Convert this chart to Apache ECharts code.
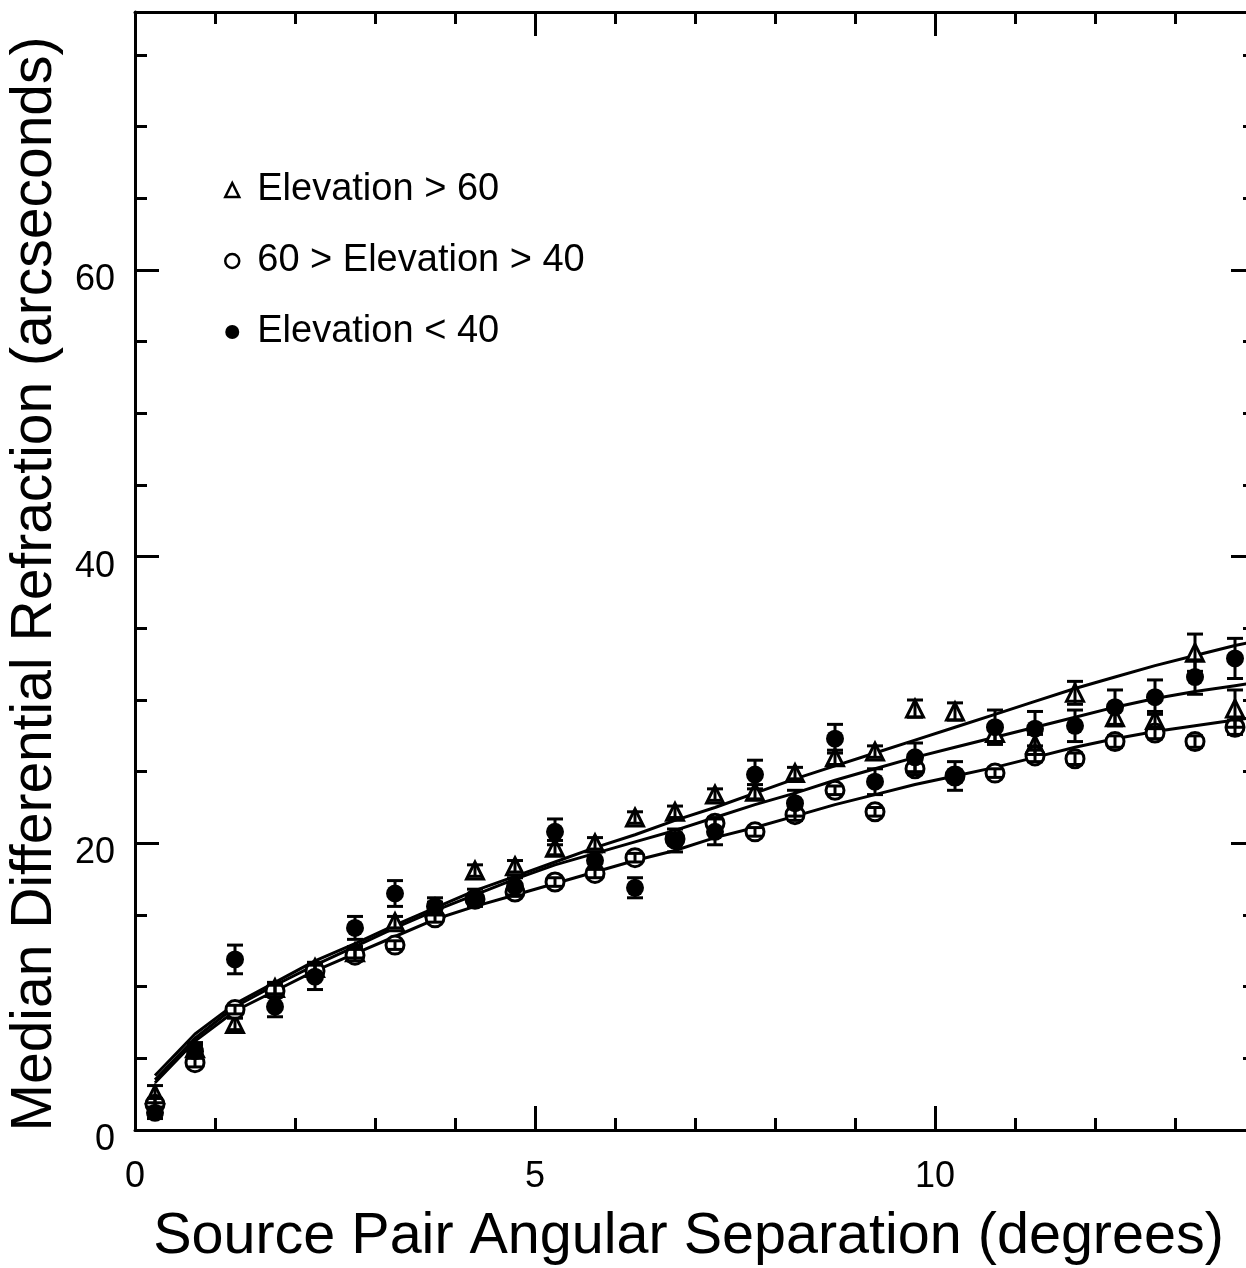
<!DOCTYPE html>
<html>
<head>
<meta charset="utf-8">
<script src="https://cdn.jsdelivr.net/npm/echarts@6/dist/echarts.min.js"></script>
<style>
html,body{margin:0;padding:0;background:#fff;}
#chart{width:1246px;height:1268px;}
</style>
</head>
<body>
<div id="chart"></div>
<script>
// Bin centres (degrees)
const bins = [0.25,0.75,1.25,1.75,2.25,2.75,3.25,3.75,4.25,4.75,5.25,5.75,6.25,6.75,7.25,7.75,8.25,8.75,9.25,9.75,10.25,10.75,11.25,11.75,12.25,12.75,13.25,13.75];

// Elevation > 60 (triangles)
const triVal = [2.5,5.7,7.4,9.9,11.3,12.4,14.5,15.5,18.1,18.4,19.7,20.0,21.8,22.2,23.4,23.6,24.9,26.0,26.4,29.4,29.2,27.7,26.9,30.5,28.8,28.6,33.3,29.4];
const triErr = [0.6,0.4,0.4,0.4,0.4,0.4,0.4,0.4,0.4,0.4,0.5,0.4,0.4,0.4,0.4,0.5,0.4,0.5,0.4,0.6,0.6,0.6,0.7,0.8,0.6,0.6,1.3,1.3];

// 60 > Elevation > 40 (open circles)
const openVal = [1.8,4.7,8.4,9.7,11.1,12.2,12.9,14.8,16.1,16.6,17.3,17.9,19.0,20.3,21.4,20.8,22.0,23.7,22.2,25.2,24.7,24.9,26.1,25.9,27.1,27.7,27.1,28.1];
const openErr = [0.4,0.3,0.3,0.4,0.4,0.4,0.3,0.3,0.3,0.3,0.3,0.3,0.3,0.4,0.4,0.3,0.4,0.3,0.3,0.4,0.4,0.3,0.4,0.4,0.4,0.4,0.4,0.5];

// Elevation < 40 (filled circles)
const fillVal = [1.2,5.5,11.9,8.6,10.7,14.1,16.5,15.6,16.2,17.0,20.8,18.8,16.9,20.2,20.8,24.8,22.8,27.3,24.3,26.0,24.7,28.1,28.0,28.2,29.5,30.2,31.6,32.9];
const fillErr = [0.4,0.4,1.0,0.7,0.9,0.8,0.9,0.6,0.6,0.6,0.9,0.6,0.7,0.8,0.9,1.0,0.9,1.0,0.9,1.0,1.0,1.2,1.2,1.1,1.2,1.2,1.2,1.4];

// Fitted curves
const fitX   = [0.25,0.75,1.25,1.75,2.25,2.75,3.25,3.75,4.25,4.75,5.25,5.75,6.25,6.75,7.25,7.75,8.25,8.75,9.25,9.75,10.25,10.75,11.25,11.75,12.25,12.75,13.25,13.75,14];
const fitTop = [3.8,6.7,8.8,10.3,11.8,13.0,14.3,15.5,16.7,17.7,18.7,19.7,20.6,21.6,22.5,23.5,24.5,25.4,26.3,27.2,28.1,29.0,29.9,30.8,31.6,32.4,33.1,33.8,34.1];
const fitMid = [3.5,6.4,8.6,10.1,11.5,12.8,14.1,15.3,16.4,17.5,18.5,19.3,20.1,20.9,21.8,22.7,23.5,24.4,25.2,26.0,26.7,27.4,28.1,28.8,29.5,30.1,30.6,31.0,31.2];
const fitLow = [3.3,6.2,8.3,9.7,11.1,12.3,13.5,14.7,15.6,16.4,17.2,18.0,18.8,19.5,20.4,21.1,21.9,22.7,23.4,24.1,24.7,25.3,26.0,26.7,27.3,27.8,28.2,28.6,28.8];

// Labels
const seriesNames = ['Elevation > 60', '60 > Elevation > 40', 'Elevation < 40'];
const xTitle = 'Source Pair Angular Separation (degrees)';
const yTitle = 'Median Differential Refraction (arcseconds)';

const FONT = 'Liberation Sans, Arial, Helvetica, sans-serif';

function pts(xs, ys) { return xs.map((x, i) => [x, ys[i]]); }
function errData(xs, v, e) { return xs.map((x, i) => [x, v[i] - e[i], v[i] + e[i]]); }

function errRender(params, api) {
  const x = api.value(0), lo = api.value(1), hi = api.value(2);
  const pHi = api.coord([x, hi]);
  const pLo = api.coord([x, lo]);
  const w = 8;
  const st = { stroke: '#000', lineWidth: 3 };
  return {
    type: 'group',
    children: [
      { type: 'line', shape: { x1: pHi[0], y1: pHi[1], x2: pLo[0], y2: pLo[1] }, style: st },
      { type: 'line', shape: { x1: pHi[0] - w, y1: pHi[1], x2: pHi[0] + w, y2: pHi[1] }, style: st },
      { type: 'line', shape: { x1: pLo[0] - w, y1: pLo[1], x2: pLo[0] + w, y2: pLo[1] }, style: st }
    ]
  };
}

const axisLineStyle = { color: '#000', width: 3 };

const chart = echarts.init(document.getElementById('chart'), null, { renderer: 'canvas' });

const lineSeries = (data, name) => ({
  type: 'line', name: name, data: data, symbol: 'none', smooth: false,
  lineStyle: { color: '#000', width: 3 }, itemStyle: { color: '#000' },
  z: 2, silent: true, animation: false
});

const errSeries = (data, name) => ({
  type: 'custom', name: name, data: data, renderItem: errRender,
  encode: { x: 0, y: [1, 2] }, z: 5, silent: true, animation: false
});

chart.setOption({
  backgroundColor: '#fff',
  animation: false,
  grid: { left: 135, top: 12, right: -9, bottom: 138, outerBoundsMode: 'none', containLabel: false },
  legend: {
    orient: 'vertical', left: 219, top: 166, itemGap: 33,
    itemWidth: 14, itemHeight: 14,
    data: [
      { name: seriesNames[0], icon: 'triangle', itemStyle: { color: '#fff', borderColor: '#000', borderWidth: 2.5 } },
      { name: seriesNames[1], icon: 'circle', itemStyle: { color: '#fff', borderColor: '#000', borderWidth: 2.5 } },
      { name: seriesNames[2], icon: 'circle', itemStyle: { color: '#000', borderColor: '#000', borderWidth: 0 } }
    ],
    textStyle: { fontSize: 38, color: '#000', fontFamily: FONT, padding: [0, 0, 0, 13] },
    selectedMode: false
  },
  xAxis: [
    {
      type: 'value', position: 'bottom', min: 0, max: 14, interval: 5,
      name: xTitle, nameLocation: 'middle', nameGap: 78,
      nameTextStyle: { fontSize: 57.5, color: '#000', fontFamily: FONT, padding: [0, 13, 0, 0] },
      axisLine: { show: true, onZero: false, lineStyle: axisLineStyle },
      axisTick: { show: true, inside: true, length: 24, lineStyle: axisLineStyle },
      minorTick: { show: true, splitNumber: 5, length: 12, lineStyle: axisLineStyle },
      splitLine: { show: false }, minorSplitLine: { show: false },
      axisLabel: { fontSize: 36, color: '#000', fontFamily: FONT, margin: 29, showMaxLabel: false }
    },
    {
      type: 'value', position: 'top', min: 0, max: 14, interval: 5,
      axisLine: { show: true, onZero: false, lineStyle: axisLineStyle },
      axisTick: { show: true, inside: true, length: 24, lineStyle: axisLineStyle },
      minorTick: { show: true, splitNumber: 5, length: 12, lineStyle: axisLineStyle },
      splitLine: { show: false }, minorSplitLine: { show: false },
      axisLabel: { show: false }
    }
  ],
  yAxis: [
    {
      type: 'value', position: 'left', min: 0, max: 78, interval: 20,
      name: yTitle, nameLocation: 'middle', nameGap: 68,
      nameTextStyle: { fontSize: 57, color: '#000', fontFamily: FONT, padding: [0, 26, 0, 0] },
      axisLine: { show: true, onZero: false, lineStyle: axisLineStyle },
      axisTick: { show: true, inside: true, length: 24, lineStyle: axisLineStyle },
      minorTick: { show: true, splitNumber: 4, length: 12, lineStyle: axisLineStyle },
      splitLine: { show: false }, minorSplitLine: { show: false },
      axisLabel: { fontSize: 36, color: '#000', fontFamily: FONT, margin: 20, showMaxLabel: false, verticalAlign: 'top', lineHeight: 20 }
    },
    {
      type: 'value', position: 'right', min: 0, max: 78, interval: 20,
      axisLine: { show: true, onZero: false, lineStyle: axisLineStyle },
      axisTick: { show: true, inside: true, length: 24, lineStyle: axisLineStyle },
      minorTick: { show: true, splitNumber: 4, length: 12, lineStyle: axisLineStyle },
      splitLine: { show: false }, minorSplitLine: { show: false },
      axisLabel: { show: false }
    }
  ],
  series: [
    lineSeries(pts(fitX, fitTop), 'fit top'),
    lineSeries(pts(fitX, fitMid), 'fit middle'),
    lineSeries(pts(fitX, fitLow), 'fit low'),
    {
      type: 'scatter', name: seriesNames[0], data: pts(bins, triVal),
      symbol: 'triangle', symbolSize: 17,
      itemStyle: { color: '#fff', borderColor: '#000', borderWidth: 3, opacity: 1 },
      z: 3, silent: true
    },
    {
      type: 'scatter', name: seriesNames[1], data: pts(bins, openVal),
      symbol: 'circle', symbolSize: 18,
      itemStyle: { color: '#fff', borderColor: '#000', borderWidth: 3, opacity: 1 },
      z: 3, silent: true
    },
    {
      type: 'scatter', name: seriesNames[2], data: pts(bins, fillVal),
      symbol: 'circle', symbolSize: 18,
      itemStyle: { color: '#000', borderColor: '#000', borderWidth: 0, opacity: 1 },
      z: 4, silent: true
    },
    errSeries(errData(bins, triVal, triErr), 'err tri'),
    errSeries(errData(bins, openVal, openErr), 'err open'),
    errSeries(errData(bins, fillVal, fillErr), 'err fill')
  ]
});
</script>
</body>
</html>
